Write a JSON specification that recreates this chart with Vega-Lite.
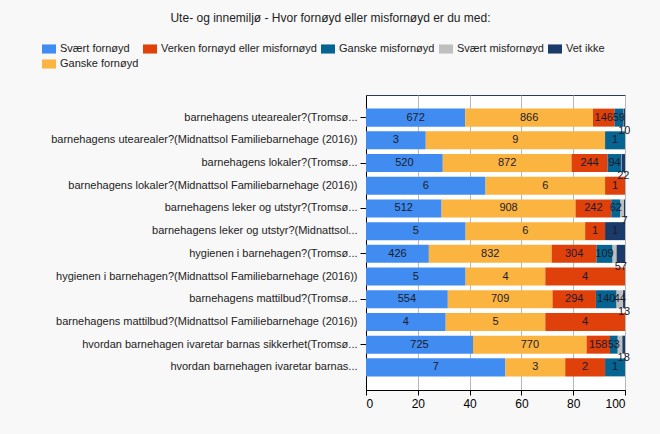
{
  "$schema": "https://vega.github.io/schema/vega-lite/v6.json",
  "width": 259,
  "height": 295,
  "autosize": {"type": "none"},
  "padding": {"left": 366, "top": 95, "right": 35, "bottom": 44},
  "background": "#f8f8f8",
  "title": {
    "text": "Ute- og innemiljø - Hvor fornøyd eller misfornøyd er du med:",
    "fontSize": 12,
    "fontWeight": "normal",
    "color": "#222222",
    "anchor": "middle",
    "frame": "group",
    "dx": -165,
    "baseline": "middle",
    "offset": 12
  },
  "data": {
    "values": [
      {"q": "barnehagens utearealer?(Tromsø...", "c": "Svært fornøyd", "n": 672},
      {"q": "barnehagens utearealer?(Tromsø...", "c": "Ganske fornøyd", "n": 866},
      {"q": "barnehagens utearealer?(Tromsø...", "c": "Verken fornøyd eller misfornøyd", "n": 146},
      {"q": "barnehagens utearealer?(Tromsø...", "c": "Ganske misfornøyd", "n": 59},
      {"q": "barnehagens utearealer?(Tromsø...", "c": "Svært misfornøyd", "n": 2},
      {"q": "barnehagens utearealer?(Tromsø...", "c": "Vet ikke", "n": 10},
      {"q": "barnehagens utearealer?(Midnattsol Familiebarnehage  (2016))", "c": "Svært fornøyd", "n": 3},
      {"q": "barnehagens utearealer?(Midnattsol Familiebarnehage  (2016))", "c": "Ganske fornøyd", "n": 9},
      {"q": "barnehagens utearealer?(Midnattsol Familiebarnehage  (2016))", "c": "Ganske misfornøyd", "n": 1},
      {"q": "barnehagens lokaler?(Tromsø...", "c": "Svært fornøyd", "n": 520},
      {"q": "barnehagens lokaler?(Tromsø...", "c": "Ganske fornøyd", "n": 872},
      {"q": "barnehagens lokaler?(Tromsø...", "c": "Verken fornøyd eller misfornøyd", "n": 244},
      {"q": "barnehagens lokaler?(Tromsø...", "c": "Ganske misfornøyd", "n": 94},
      {"q": "barnehagens lokaler?(Tromsø...", "c": "Svært misfornøyd", "n": 2},
      {"q": "barnehagens lokaler?(Tromsø...", "c": "Vet ikke", "n": 22},
      {"q": "barnehagens lokaler?(Midnattsol Familiebarnehage  (2016))", "c": "Svært fornøyd", "n": 6},
      {"q": "barnehagens lokaler?(Midnattsol Familiebarnehage  (2016))", "c": "Ganske fornøyd", "n": 6},
      {"q": "barnehagens lokaler?(Midnattsol Familiebarnehage  (2016))", "c": "Verken fornøyd eller misfornøyd", "n": 1},
      {"q": "barnehagens leker og utstyr?(Tromsø...", "c": "Svært fornøyd", "n": 512},
      {"q": "barnehagens leker og utstyr?(Tromsø...", "c": "Ganske fornøyd", "n": 908},
      {"q": "barnehagens leker og utstyr?(Tromsø...", "c": "Verken fornøyd eller misfornøyd", "n": 242},
      {"q": "barnehagens leker og utstyr?(Tromsø...", "c": "Ganske misfornøyd", "n": 62},
      {"q": "barnehagens leker og utstyr?(Tromsø...", "c": "Svært misfornøyd", "n": 24},
      {"q": "barnehagens leker og utstyr?(Tromsø...", "c": "Vet ikke", "n": 7},
      {"q": "barnehagens leker og utstyr?(Midnattsol...", "c": "Svært fornøyd", "n": 5},
      {"q": "barnehagens leker og utstyr?(Midnattsol...", "c": "Ganske fornøyd", "n": 6},
      {"q": "barnehagens leker og utstyr?(Midnattsol...", "c": "Verken fornøyd eller misfornøyd", "n": 1},
      {"q": "barnehagens leker og utstyr?(Midnattsol...", "c": "Vet ikke", "n": 1},
      {"q": "hygienen i barnehagen?(Tromsø...", "c": "Svært fornøyd", "n": 426},
      {"q": "hygienen i barnehagen?(Tromsø...", "c": "Ganske fornøyd", "n": 832},
      {"q": "hygienen i barnehagen?(Tromsø...", "c": "Verken fornøyd eller misfornøyd", "n": 304},
      {"q": "hygienen i barnehagen?(Tromsø...", "c": "Ganske misfornøyd", "n": 109},
      {"q": "hygienen i barnehagen?(Tromsø...", "c": "Svært misfornøyd", "n": 27},
      {"q": "hygienen i barnehagen?(Tromsø...", "c": "Vet ikke", "n": 57},
      {"q": "hygienen i barnehagen?(Midnattsol Familiebarnehage  (2016))", "c": "Svært fornøyd", "n": 5},
      {"q": "hygienen i barnehagen?(Midnattsol Familiebarnehage  (2016))", "c": "Ganske fornøyd", "n": 4},
      {"q": "hygienen i barnehagen?(Midnattsol Familiebarnehage  (2016))", "c": "Verken fornøyd eller misfornøyd", "n": 4},
      {"q": "barnehagens mattilbud?(Tromsø...", "c": "Svært fornøyd", "n": 554},
      {"q": "barnehagens mattilbud?(Tromsø...", "c": "Ganske fornøyd", "n": 709},
      {"q": "barnehagens mattilbud?(Tromsø...", "c": "Verken fornøyd eller misfornøyd", "n": 294},
      {"q": "barnehagens mattilbud?(Tromsø...", "c": "Ganske misfornøyd", "n": 140},
      {"q": "barnehagens mattilbud?(Tromsø...", "c": "Svært misfornøyd", "n": 44},
      {"q": "barnehagens mattilbud?(Tromsø...", "c": "Vet ikke", "n": 13},
      {"q": "barnehagens mattilbud?(Midnattsol Familiebarnehage  (2016))", "c": "Svært fornøyd", "n": 4},
      {"q": "barnehagens mattilbud?(Midnattsol Familiebarnehage  (2016))", "c": "Ganske fornøyd", "n": 5},
      {"q": "barnehagens mattilbud?(Midnattsol Familiebarnehage  (2016))", "c": "Verken fornøyd eller misfornøyd", "n": 4},
      {"q": "hvordan barnehagen ivaretar barnas sikkerhet(Tromsø...", "c": "Svært fornøyd", "n": 725},
      {"q": "hvordan barnehagen ivaretar barnas sikkerhet(Tromsø...", "c": "Ganske fornøyd", "n": 770},
      {"q": "hvordan barnehagen ivaretar barnas sikkerhet(Tromsø...", "c": "Verken fornøyd eller misfornøyd", "n": 158},
      {"q": "hvordan barnehagen ivaretar barnas sikkerhet(Tromsø...", "c": "Ganske misfornøyd", "n": 53},
      {"q": "hvordan barnehagen ivaretar barnas sikkerhet(Tromsø...", "c": "Svært misfornøyd", "n": 31},
      {"q": "hvordan barnehagen ivaretar barnas sikkerhet(Tromsø...", "c": "Vet ikke", "n": 18},
      {"q": "hvordan barnehagen ivaretar barnas...", "c": "Svært fornøyd", "n": 7},
      {"q": "hvordan barnehagen ivaretar barnas...", "c": "Ganske fornøyd", "n": 3},
      {"q": "hvordan barnehagen ivaretar barnas...", "c": "Verken fornøyd eller misfornøyd", "n": 2},
      {"q": "hvordan barnehagen ivaretar barnas...", "c": "Ganske misfornøyd", "n": 1}
    ]
  },
  "transform": [
    {"joinaggregate": [{"op": "sum", "field": "n", "as": "tot"}], "groupby": ["q"]},
    {"calculate": "indexof(['Svært fornøyd','Ganske fornøyd','Verken fornøyd eller misfornøyd','Ganske misfornøyd','Svært misfornøyd','Vet ikke'], datum.c)", "as": "o"}
  ],
  "encoding": {
    "y": {
      "field": "q",
      "type": "nominal",
      "sort": null,
      "scale": {"paddingInner": 0.207, "paddingOuter": 0.6},
      "axis": {
        "title": null,
        "labelFontSize": 11,
        "labelColor": "#222222",
        "labelLimit": 400,
        "labelPadding": 3,
        "domainColor": "#000000",
        "tickColor": "#000000",
        "tickSize": 6,
        "tickOpacity": {"condition": {"test": "indexof(datum.value, 'Tromsø') >= 0", "value": 1}, "value": 0},
        "grid": false
      }
    },
    "x": {
      "field": "n",
      "type": "quantitative",
      "stack": "normalize",
      "scale": {"domain": [0, 1], "nice": false},
      "axis": {
        "title": null,
        "values": [0, 0.2, 0.4, 0.6, 0.8, 1],
        "labelExpr": "round(datum.value * 100)",
        "labelFontSize": 12,
        "labelColor": "#000000",
        "labelPadding": 3,
        "domainColor": "#000000",
        "tickColor": "#000000",
        "tickSize": 5,
        "grid": true,
        "gridColor": "#b8b8b8"
      }
    },
    "order": {"field": "o", "type": "quantitative"}
  },
  "layer": [
    {
      "mark": {"type": "bar"},
      "encoding": {
        "color": {
          "field": "c",
          "type": "nominal",
          "scale": {
            "domain": ["Svært fornøyd", "Verken fornøyd eller misfornøyd", "Ganske misfornøyd", "Svært misfornøyd", "Vet ikke", "Ganske fornøyd"],
            "range": ["#418cf0", "#e0400a", "#056492", "#bfbfbf", "#1a3b69", "#fcb441"]
          },
          "legend": {
            "title": null,
            "orient": "none",
            "legendX": -324,
            "legendY": -53,
            "direction": "horizontal",
            "columns": 5,
            "columnPadding": 4,
            "rowPadding": 3,
            "symbolType": "M-1,-0.65L1,-0.65L1,0.65L-1,0.65Z",
            "symbolSize": 196,
            "symbolStrokeWidth": 0,
            "labelFontSize": 11,
            "labelColor": "#222222",
            "labelOffset": 4
          }
        }
      }
    },
    {
      "mark": {"type": "text", "fontSize": 11, "color": "#1a1a2a"},
      "encoding": {
        "x": {"field": "n", "type": "quantitative", "stack": "normalize", "bandPosition": 0.5},
        "detail": {"field": "c"},
        "text": {"condition": {"test": "datum.n / datum.tot >= 0.025 && !(datum.c == 'Vet ikke' && datum.tot > 100)", "field": "n"}, "value": ""}
      }
    },
    {
      "mark": {"type": "text", "fontSize": 11, "color": "#1a1a2a", "dy": 13},
      "encoding": {
        "x": {"field": "n", "type": "quantitative", "stack": "normalize", "bandPosition": 0.5},
        "detail": {"field": "c"},
        "text": {"condition": {"test": "datum.c == 'Vet ikke' && datum.tot > 100", "field": "n"}, "value": ""}
      }
    }
  ],
  "config": {
    "font": "Liberation Sans",
    "view": {"fill": "#ffffff", "stroke": "#2b3b55", "strokeWidth": 1}
  }
}
